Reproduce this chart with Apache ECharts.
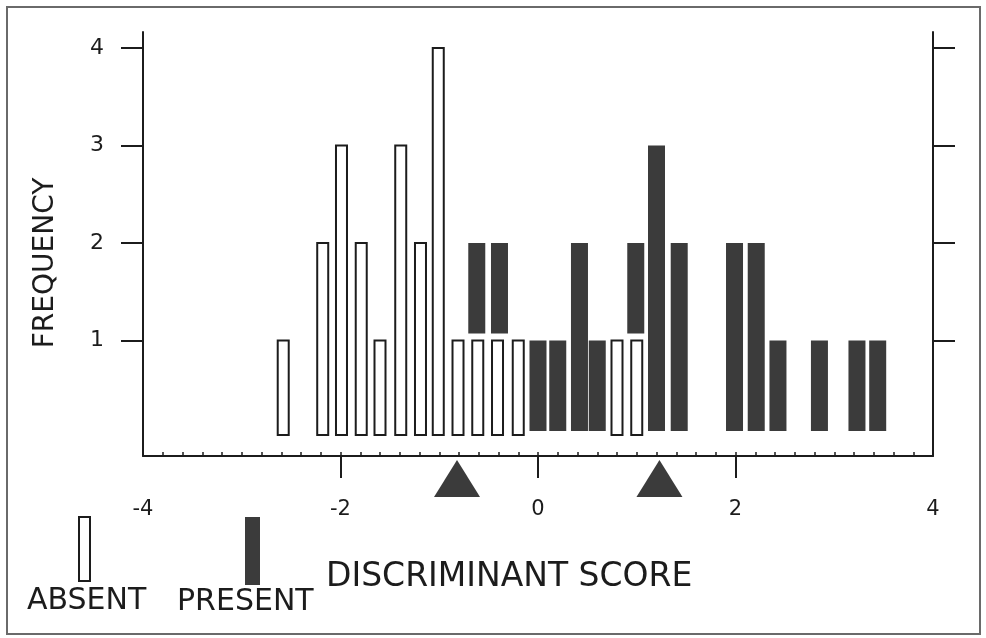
<!DOCTYPE html>
<html>
<head>
<meta charset="utf-8">
<script src="https://cdn.jsdelivr.net/npm/echarts@6/dist/echarts.min.js"></script>
<style>
html,body{margin:0;padding:0;background:#fff;}
#chart{width:986px;height:638px;}
</style>
</head>
<body>
<div id="chart"></div>
<script>
// ---- data ----
const absentX    = [-2.58, -2.18, -1.99, -1.79, -1.60, -1.39, -1.19, -1.01, -0.81, -0.61, -0.41, -0.20, 0.80, 1.00];
const absentFreq = [1, 2, 3, 2, 1, 3, 2, 4, 1, 1, 1, 1, 1, 1];
const presentX    = [-0.62, -0.39, 0.00, 0.20, 0.42, 0.60, 0.99, 1.20, 1.43, 1.99, 2.21, 2.43, 2.85, 3.23, 3.44];
const presentFreq = [1, 1, 1, 1, 2, 1, 1, 3, 2, 2, 2, 1, 1, 1, 1];
const groupMeans = [-0.82, 1.23];
const xTickValues = [-2, 0, 2];
const yTickValues = [1, 2, 3, 4];
const yTickLabels = ['1', '2', '3', '4'];
const xTitle = 'DISCRIMINANT SCORE';
const yTitle = 'FREQUENCY';
const legendNames = ['ABSENT', 'PRESENT'];

// present bars drawn on top of an absent bar in the same bin
function baseFor(x) {
  for (let i = 0; i < absentX.length; i++) {
    if (Math.abs(absentX[i] - x) < 0.06) return absentFreq[i];
  }
  return 0;
}
const absentData = absentX.map((x, i) => [x, 0, absentFreq[i]]);
const presentData = presentX.map((x, i) => { const b = baseFor(x); return [x, b, b + presentFreq[i]]; });

const INK = '#1c1c1c';
const DARK = '#3b3b3b';
const FONT = 'DejaVu Sans';

function barRenderer(width, bottomGap, fill, stroke, lw) {
  return function (params, api) {
    const x = api.value(0), y0 = api.value(1), y1 = api.value(2);
    const p0 = api.coord([x, y0]);
    const p1 = api.coord([x, y1]);
    const bottom = p0[1] - bottomGap;
    return {
      type: 'rect',
      shape: { x: p0[0] - width / 2, y: p1[1], width: width, height: bottom - p1[1] },
      style: { fill: fill, stroke: stroke, lineWidth: lw }
    };
  };
}

const chart = echarts.init(document.getElementById('chart'), null, { renderer: 'canvas' });
chart.setOption({
  backgroundColor: '#ffffff',
  animation: false,
  grid: [
    { left: 143, right: 53, top: 32, bottom: 182 },
    { left: 143, right: 53, top: 459, height: 39 }
  ],
  xAxis: [
    {
      type: 'value', gridIndex: 0, min: -4, max: 4, interval: 2, position: 'bottom',
      axisLine: { show: true, onZero: false, lineStyle: { color: INK, width: 2 } },
      axisTick: { show: true, customValues: xTickValues, length: 22, lineStyle: { color: INK, width: 2 } },
      axisLabel: { show: true, margin: 43, color: INK, fontFamily: FONT, fontSize: 21, showMinLabel: true, showMaxLabel: true },
      splitLine: { show: false }
    },
    {
      type: 'value', gridIndex: 0, min: -4, max: 4, interval: 0.2, position: 'bottom',
      axisLine: { show: false, onZero: false },
      axisTick: { show: true, inside: true, length: 4, lineStyle: { color: INK, width: 1.5 } },
      axisLabel: { show: false },
      splitLine: { show: false }
    },
    {
      type: 'value', gridIndex: 1, min: -4, max: 4, show: false
    }
  ],
  yAxis: [
    {
      type: 'value', gridIndex: 0, min: -0.1846, max: 4.164, position: 'left',
      axisLine: { show: true, onZero: false, lineStyle: { color: INK, width: 2 } },
      axisTick: { show: true, customValues: yTickValues, length: 22, lineStyle: { color: INK, width: 2 } },
      axisLabel: {
        show: true, customValues: yTickValues, margin: 39, color: INK, fontFamily: FONT, fontSize: 22,
        formatter: function (v) { const i = yTickValues.indexOf(v); return i >= 0 ? yTickLabels[i] : ''; }
      },
      splitLine: { show: false }
    },
    {
      type: 'value', gridIndex: 0, min: -0.1846, max: 4.164, position: 'right',
      axisLine: { show: true, onZero: false, lineStyle: { color: INK, width: 2 } },
      axisTick: { show: true, customValues: yTickValues, length: 22, lineStyle: { color: INK, width: 2 } },
      axisLabel: { show: false },
      splitLine: { show: false }
    },
    {
      type: 'value', gridIndex: 1, min: 0, max: 1, show: false
    }
  ],
  series: [
    {
      name: legendNames[0], type: 'custom', xAxisIndex: 0, yAxisIndex: 0,
      encode: { x: 0, y: [1, 2] },
      renderItem: barRenderer(11, 3, '#ffffff', INK, 2),
      data: absentData, clip: false
    },
    {
      name: legendNames[1], type: 'custom', xAxisIndex: 0, yAxisIndex: 0,
      encode: { x: 0, y: [1, 2] },
      renderItem: barRenderer(17, 7, DARK, null, 0),
      data: presentData, clip: false
    },
    {
      name: 'means', type: 'scatter', xAxisIndex: 2, yAxisIndex: 2,
      symbol: 'triangle', symbolSize: [46, 37],
      itemStyle: { color: DARK, opacity: 1 },
      data: groupMeans.map(m => [m, 0.5]),
      clip: false
    }
  ],
  graphic: [
    { type: 'rect', shape: { x: 7, y: 7, width: 973, height: 627 }, style: { fill: null, stroke: '#6a6a6a', lineWidth: 2 }, z: -1 },
    { type: 'rect', shape: { x: 79, y: 517, width: 11, height: 64 }, style: { fill: '#ffffff', stroke: INK, lineWidth: 2 } },
    { type: 'rect', shape: { x: 245, y: 517, width: 15, height: 68 }, style: { fill: DARK } },
    { type: 'text', x: 27, y: 601, style: { text: legendNames[0], font: '30px "' + FONT + '"', fill: INK, textAlign: 'left', textVerticalAlign: 'middle' } },
    { type: 'text', x: 177, y: 602, style: { text: legendNames[1], font: '30px "' + FONT + '"', fill: INK, textAlign: 'left', textVerticalAlign: 'middle' } },
    { type: 'text', x: 326, y: 577, style: { text: xTitle, font: '33px "' + FONT + '"', fill: INK, textAlign: 'left', textVerticalAlign: 'middle' } },
    { type: 'text', x: 46, y: 263, rotation: Math.PI / 2, style: { text: yTitle, font: '28px "' + FONT + '"', fill: INK, textAlign: 'center', textVerticalAlign: 'middle' } }
  ]
});
</script>
</body>
</html>
